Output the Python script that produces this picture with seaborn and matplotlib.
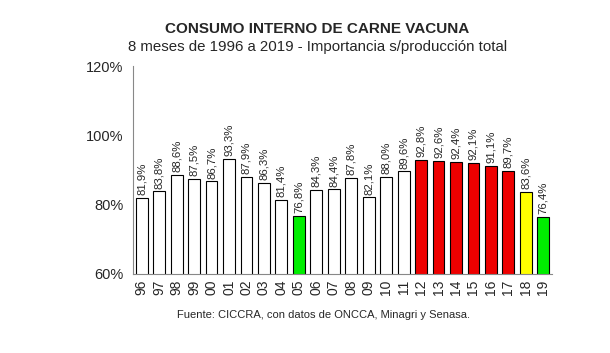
import numpy as np
import pandas as pd
import matplotlib
matplotlib.use("Agg")
import matplotlib.pyplot as plt
import seaborn as sns

years = ["96", "97", "98", "99", "00", "01", "02", "03", "04", "05", "06", "07",
         "08", "09", "10", "11", "12", "13", "14", "15", "16", "17", "18", "19"]
values = [81.9, 83.8, 88.6, 87.5, 86.7, 93.3, 87.9, 86.3, 81.4, 76.8, 84.3, 84.4,
          87.8, 82.1, 88.0, 89.6, 92.8, 92.6, 92.4, 92.1, 91.1, 89.7, 83.6, 76.4]
colors = ["white"] * 9 + ["#00ee00"] + ["white"] * 6 + ["#ee0000"] * 6 + ["#ffff00", "#00ee00"]

sns.set_style("white")
plt.rcParams["font.family"] = ["Liberation Sans", "DejaVu Sans"]

df = pd.DataFrame({"year": years, "value": values})

fig = plt.figure(figsize=(6.1, 3.53), dpi=100)
ax = fig.add_axes([0.218, 0.224, 0.687, 0.589])

sns.barplot(data=df, x="year", y="value", hue="year", palette=colors,
            legend=False, width=0.68, edgecolor="black", linewidth=0.8,
            saturation=1, ax=ax)

ax.set_ylim(60, 120)
ax.set_xlim(-0.5, len(years) - 0.5)
ax.set_yticks([60, 80, 100, 120])
ax.set_yticklabels(["60%", "80%", "100%", "120%"], fontsize=10.5)
ax.set_xlabel("")
ax.set_ylabel("")
ax.tick_params(axis="x", labelrotation=90, labelsize=10, length=0, pad=4)
ax.tick_params(axis="y", length=4, direction="out", color="#888888", pad=3)
ax.set_xticks(np.arange(len(years) + 1) - 0.5, minor=True)
ax.tick_params(axis="x", which="minor", length=4, direction="out", color="#888888")

for s in ["top", "right"]:
    ax.spines[s].set_visible(False)
for s in ["left", "bottom"]:
    ax.spines[s].set_color("#888888")
    ax.spines[s].set_linewidth(0.8)

for i, v in enumerate(values):
    ax.text(i, v + 0.8, f"{v:.1f}%".replace(".", ","), rotation=90,
            ha="center", va="bottom", fontsize=8.2)

fig.text(0.52, 0.918, "CONSUMO INTERNO DE CARNE VACUNA", ha="center", va="center",
         fontsize=11, fontweight="bold")
fig.text(0.52, 0.868, "8 meses de 1996 a 2019 - Importancia s/producción total",
         ha="center", va="center", fontsize=10.8)
fig.text(0.531, 0.108, "Fuente: CICCRA, con datos de ONCCA, Minagri y Senasa.",
         ha="center", va="center", fontsize=8)

fig.savefig("out.png", dpi=100)
